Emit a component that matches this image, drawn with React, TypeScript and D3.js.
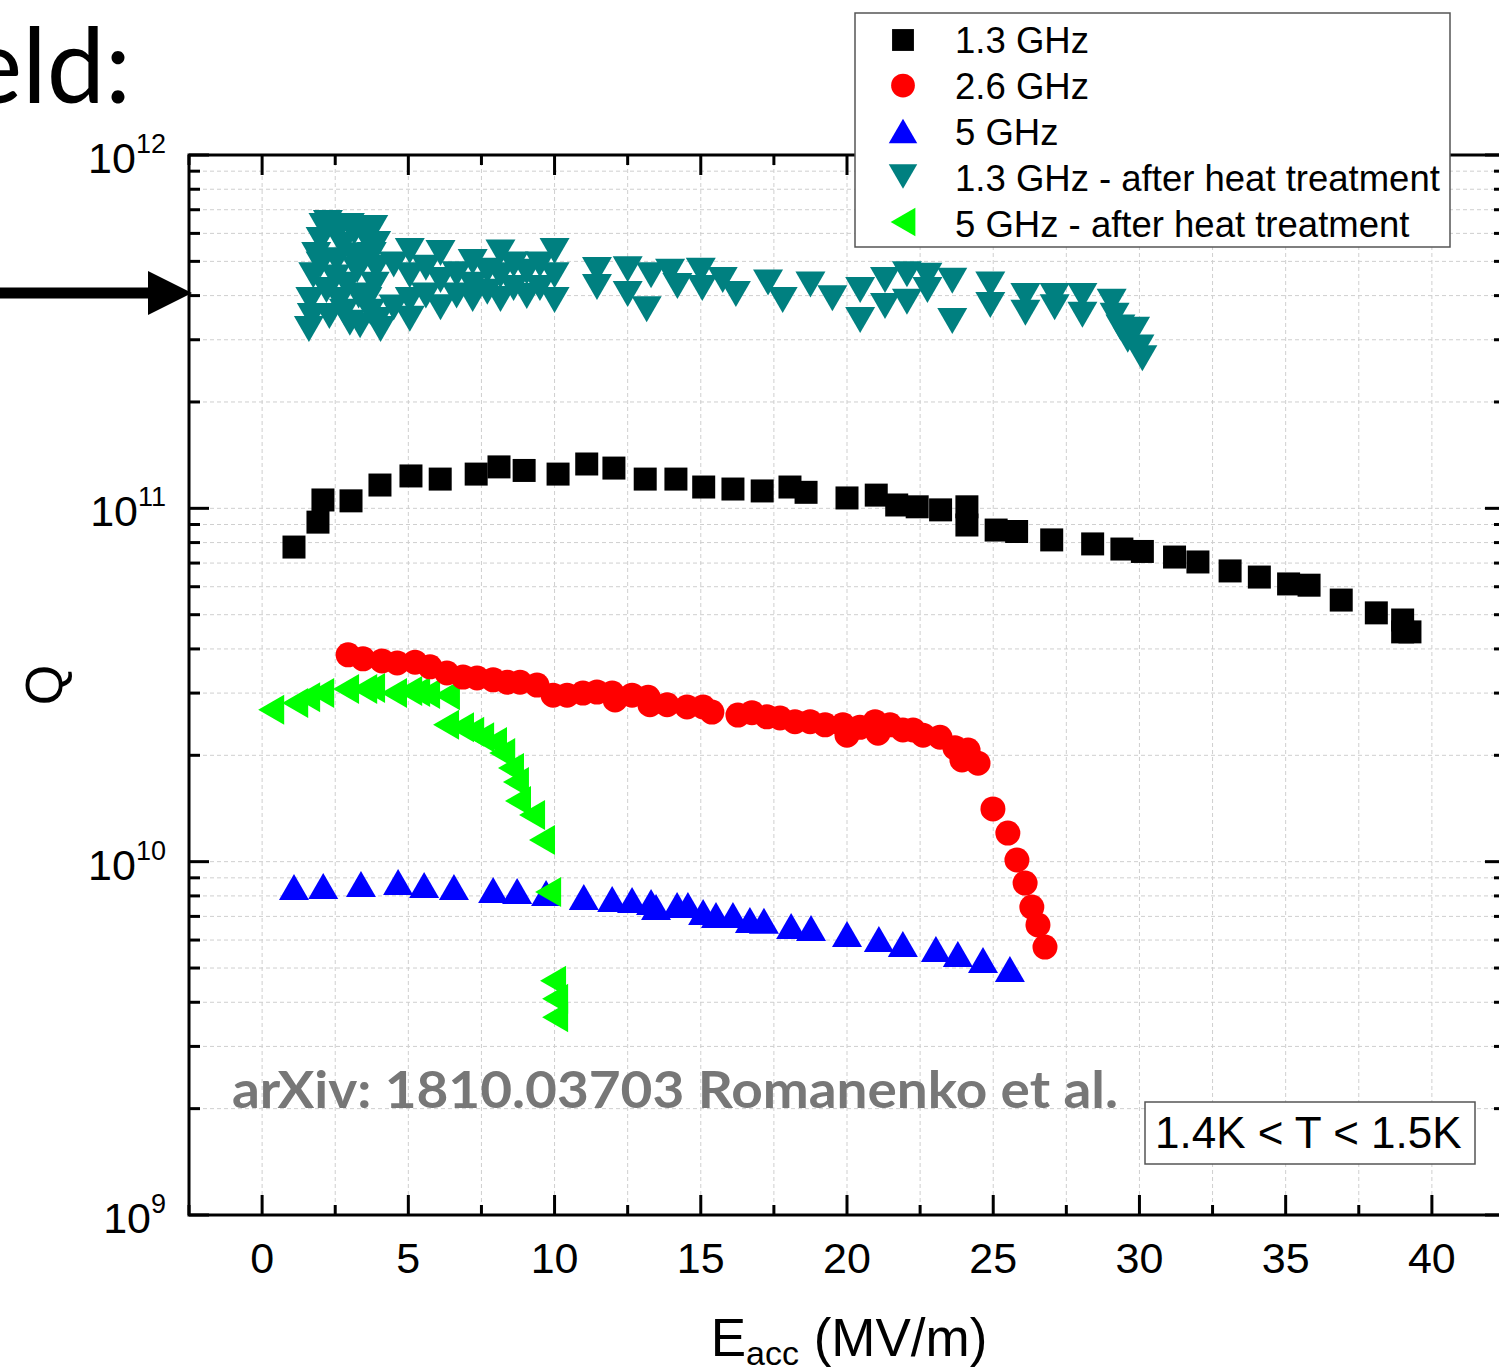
import React from 'react';
import * as d3 from 'd3';

// 1.3 GHz
const e13 = [1.09, 1.91, 2.08, 3.04, 4.03, 5.09, 6.09, 7.32, 8.1, 8.96, 10.12, 11.1, 12.03, 13.1, 14.15, 15.1, 16.1, 17.1, 18.05, 18.6, 20.0, 21.0, 21.7, 22.4, 23.2, 24.1, 24.1, 25.1, 25.8, 27.0, 28.4, 29.4, 30.1, 31.2, 32.0, 33.1, 34.1, 35.1, 35.8, 36.9, 38.1, 39.0, 39.25, 39.0];
const q13 = [7.77e10, 9.14e10, 1.056e11, 1.05e11, 1.164e11, 1.235e11, 1.21e11, 1.25e11, 1.31e11, 1.28e11, 1.25e11, 1.335e11, 1.3e11, 1.21e11, 1.21e11, 1.149e11, 1.134e11, 1.12e11, 1.149e11, 1.11e11, 1.07e11, 1.09e11, 1.022e11, 1.01e11, 0.99e11, 1.01e11, 8.97e10, 8.68e10, 8.6e10, 8.14e10, 7.93e10, 7.67e10, 7.55e10, 7.28e10, 7.05e10, 6.65e10, 6.39e10, 6.11e10, 6.06e10, 5.5e10, 5.06e10, 4.83e10, 4.47e10, 4.47e10];

// 2.6 GHz
const e26 = [2.94, 3.45, 4.1, 4.62, 5.23, 5.74, 6.32, 6.87, 7.35, 7.9, 8.38, 8.82, 9.4, 9.95, 10.43, 10.97, 11.45, 11.97, 12.07, 12.65, 13.2, 13.26, 13.85, 14.53, 15.08, 15.38, 16.27, 16.75, 17.26, 17.71, 18.22, 18.74, 19.25, 19.86, 20.0, 20.44, 20.96, 21.06, 21.47, 21.91, 22.26, 22.6, 23.18, 23.69, 23.93, 24.14, 24.48, 24.99, 25.5, 25.81, 26.09, 26.32, 26.53, 26.77];
const q26 = [3.85e10, 3.75e10, 3.7e10, 3.65e10, 3.67e10, 3.56e10, 3.42e10, 3.33e10, 3.31e10, 3.27e10, 3.22e10, 3.22e10, 3.16e10, 2.96e10, 2.96e10, 3.0e10, 3.02e10, 3.0e10, 2.87e10, 2.96e10, 2.92e10, 2.78e10, 2.78e10, 2.74e10, 2.74e10, 2.65e10, 2.6e10, 2.64e10, 2.57e10, 2.55e10, 2.49e10, 2.49e10, 2.44e10, 2.44e10, 2.28e10, 2.4e10, 2.49e10, 2.31e10, 2.44e10, 2.36e10, 2.36e10, 2.28e10, 2.25e10, 2.1e10, 1.94e10, 2.07e10, 1.9e10, 1.41e10, 1.205e10, 1.011e10, 8.7e9, 7.44e9, 6.62e9, 5.73e9];

// 5 GHz
const e5 = [1.09, 2.09, 3.38, 4.65, 5.54, 6.56, 7.9, 8.72, 9.71, 11.0, 11.97, 12.65, 13.3, 13.47, 14.19, 14.56, 15.08, 15.52, 16.1, 16.68, 17.16, 18.09, 18.77, 20.0, 21.09, 21.91, 23.04, 23.79, 24.65, 25.57];
const q5 = [8.48e9, 8.53e9, 8.65e9, 8.76e9, 8.59e9, 8.48e9, 8.32e9, 8.26e9, 8.15e9, 7.94e9, 7.84e9, 7.79e9, 7.69e9, 7.44e9, 7.54e9, 7.54e9, 7.2e9, 7.06e9, 7.06e9, 6.84e9, 6.8e9, 6.58e9, 6.49e9, 6.24e9, 6.04e9, 5.85e9, 5.66e9, 5.48e9, 5.27e9, 4.97e9];

// 1.3 GHz - after heat treatment
const e13h = [1.6, 1.65, 1.7, 1.75, 1.85, 2.0, 2.0, 2.1, 2.2, 2.25, 2.3, 2.45, 2.5, 2.55, 2.65, 2.7, 2.75, 2.8, 2.9, 3.0, 3.0, 3.1, 3.15, 3.25, 3.3, 3.35, 3.45, 3.5, 3.6, 3.6, 3.7, 3.75, 3.8, 3.85, 3.9, 3.9, 3.95, 4.05, 4.5, 4.5, 5.05, 5.05, 5.05, 5.05, 5.6, 5.6, 6.1, 6.1, 6.1, 6.65, 6.65, 7.2, 7.2, 7.2, 7.7, 7.7, 8.15, 8.15, 8.15, 8.6, 8.6, 9.05, 9.05, 9.5, 9.5, 10.0, 10.0, 10.0, 11.45, 11.45, 12.5, 12.5, 13.15, 13.3, 14.2, 13.95, 15.0, 15.05, 15.75, 16.2, 17.3, 17.8, 18.75, 19.5, 20.45, 20.45, 21.3, 21.3, 22.05, 22.05, 22.75, 22.75, 23.6, 23.6, 24.9, 24.9, 26.1, 26.1, 27.1, 27.1, 28.05, 28.05, 29.05, 29.15, 29.35, 29.6, 29.85, 30.0, 30.1];
const q13h = [3.22e11, 3.89e11, 3.5e11, 4.57e11, 5.21e11, 5.75e11, 4.9e11, 6.3e11, 4.15e11, 6.42e11, 3.5e11, 6.21e11, 4.5e11, 5.04e11, 3.89e11, 6.3e11, 5.56e11, 3.6e11, 4.29e11, 3.35e11, 6.3e11, 5.2e11, 6.05e11, 4.73e11, 4.0e11, 3.3e11, 5.0e11, 5.94e11, 3.89e11, 6.2e11, 3.6e11, 5.21e11, 6.21e11, 4.29e11, 4.8e11, 5.6e11, 3.41e11, 3.22e11, 4.9e11, 3.7e11, 5.35e11, 4.57e11, 3.89e11, 3.44e11, 4.8e11, 4.0e11, 5.28e11, 4.43e11, 3.71e11, 4.6e11, 4.0e11, 4.98e11, 4.29e11, 3.91e11, 4.7e11, 4.1e11, 5.3e11, 4.57e11, 3.91e11, 4.9e11, 4.2e11, 4.67e11, 3.99e11, 4.9e11, 4.2e11, 5.35e11, 4.57e11, 3.89e11, 4.73e11, 4.23e11, 4.75e11, 4.04e11, 3.66e11, 4.57e11, 4.26e11, 4.67e11, 4.7e11, 4.2e11, 4.43e11, 4.04e11, 4.36e11, 3.89e11, 4.3e11, 3.93e11, 4.15e11, 3.41e11, 4.43e11, 3.74e11, 4.6e11, 3.84e11, 4.55e11, 4.15e11, 4.41e11, 3.39e11, 4.3e11, 3.76e11, 3.99e11, 3.58e11, 3.99e11, 3.71e11, 3.99e11, 3.53e11, 3.84e11, 3.51e11, 3.25e11, 3.0e11, 3.2e11, 2.85e11, 2.66e11];

// 5 GHz - after heat treatment
const e5h = [0.31, 1.13, 1.54, 2.02, 2.87, 3.49, 3.76, 4.51, 5.03, 5.3, 5.64, 6.32, 6.29, 6.8, 7.15, 7.49, 7.93, 8.21, 8.51, 8.68, 8.75, 9.23, 9.57, 9.78, 9.95, 10.02, 10.02];
const q5h = [2.69e10, 2.81e10, 2.92e10, 3.0e10, 3.08e10, 3.08e10, 3.1e10, 3.0e10, 3.04e10, 3.02e10, 2.98e10, 2.96e10, 2.44e10, 2.4e10, 2.33e10, 2.25e10, 2.18e10, 2.03e10, 1.84e10, 1.68e10, 1.485e10, 1.356e10, 1.151e10, 8.21e9, 4.6e9, 4.09e9, 3.63e9];

const xTicks = [0, 5, 10, 15, 20, 25, 30, 35, 40];
const yDecades = [1e9, 1e10, 1e11, 1e12];
const yExponents = ['9', '10', '11', '12'];

const legendLabels = ['1.3 GHz', '2.6 GHz', '5 GHz', '1.3 GHz - after heat treatment', '5 GHz - after heat treatment'];

const ARIAL = '"Liberation Sans", Arial, sans-serif';

const shapes = {
  square: 'M-11.5,-11.5H11.5V11.5H-11.5Z',
  circle: 'M-12.5,0A12.5,12.5 0 1,0 12.5,0A12.5,12.5 0 1,0 -12.5,0Z',
  up: 'M0,-13L15,13L-15,13Z',
  down: 'M0,13L15,-13L-15,-13Z',
  left: 'M-13,0L13,-15L13,15Z',
};

const series = [
  { e: e13, q: q13, shape: shapes.square, color: '#000000' },
  { e: e5, q: q5, shape: shapes.up, color: '#0000ff' },
  { e: e5h, q: q5h, shape: shapes.left, color: '#00ff00' },
  { e: e26, q: q26, shape: shapes.circle, color: '#ff0000' },
  { e: e13h, q: q13h, shape: shapes.down, color: '#008080' },
];

const legendItems = [
  { shape: shapes.square, color: '#000000' },
  { shape: shapes.circle, color: '#ff0000' },
  { shape: shapes.up, color: '#0000ff' },
  { shape: shapes.down, color: '#008080' },
  { shape: shapes.left, color: '#00ff00' },
];

export default function App() {
  const x = d3.scaleLinear().domain([-2.5, 42.5]).range([189, 1505]);
  const y = d3.scaleLog().domain([1e9, 1e12]).range([1215, 155]);
  const [x0, x1] = x.range();
  const [yb, yt] = y.range();

  const xMinor = d3.range(-2.5, 42.6, 2.5);
  const yMinor: number[] = [];
  [1e9, 1e10, 1e11].forEach((d) => {
    for (let m = 1; m <= 9; m += 1) yMinor.push(m * d);
  });

  return (
    <svg width={1499} height={1372} style={{ position: 'absolute', left: 0, top: 0, background: '#fff' }}>
      <rect width={1499} height={1372} fill="#fff" />

      {/* heading fragment (cropped in the source slide) and arrow */}
      <text x={131} y={103} textAnchor="end" fontFamily="Lato, 'Noto Sans', sans-serif" fontSize={104} fill="#000">field:</text>
      <line x1={0} x2={152} y1={293} y2={293} stroke="#000" strokeWidth={11} />
      <path d="M148,271L192,293L148,315Z" fill="#000" />

      {/* grid */}
      <g stroke="#cfcfcf" strokeWidth={1} strokeDasharray="4 3">
        {xMinor.filter((v) => v > -2.5 && v < 42.5).map((v) => (
          <line key={`gx${v}`} x1={x(v)} x2={x(v)} y1={yt} y2={yb} />
        ))}
        {yMinor.filter((v) => v > 1e9).map((v) => (
          <line key={`gy${v}`} x1={x0} x2={x1} y1={y(v)} y2={y(v)} />
        ))}
      </g>

      {/* data */}
      {series.map((s, si) => (
        <g key={si} fill={s.color}>
          {s.e.map((ev, i) => (
            <path key={i} d={s.shape} transform={`translate(${x(ev)},${y(s.q[i])})`} />
          ))}
        </g>
      ))}

      {/* axes frame and ticks */}
      <g stroke="#000" strokeWidth={3} fill="none">
        <rect x={x0} y={yt} width={x1 - x0} height={yb - yt} />
        {xMinor.map((v) => {
          const major = xTicks.includes(v);
          const len = major ? 20 : 10;
          return (
            <g key={`tx${v}`}>
              <line x1={x(v)} x2={x(v)} y1={yb} y2={yb - len} />
              <line x1={x(v)} x2={x(v)} y1={yt} y2={yt + len} />
            </g>
          );
        })}
        {yMinor.concat([1e12]).map((v) => {
          const major = yDecades.includes(v);
          const len = major ? 20 : 11;
          return (
            <g key={`ty${v}`}>
              <line x1={x0} x2={x0 + len} y1={y(v)} y2={y(v)} />
              <line x1={x1} x2={x1 - len} y1={y(v)} y2={y(v)} />
            </g>
          );
        })}
      </g>

      {/* tick labels */}
      <g fontFamily={ARIAL} fill="#000">
        {xTicks.map((v) => (
          <text key={`lx${v}`} x={x(v)} y={1273} fontSize={43} textAnchor="middle">{v}</text>
        ))}
        {yDecades.map((v, i) => (
          <text key={`ly${v}`} x={166} y={y(v) + 18} textAnchor="end">
            <tspan fontSize={43}>10</tspan>
            <tspan fontSize={27} dy={-20}>{yExponents[i]}</tspan>
          </text>
        ))}
      </g>

      {/* axis titles */}
      <text x={849} y={1356} textAnchor="middle" fontFamily={ARIAL} fontSize={53} fill="#000">
        E<tspan fontSize={34} dy={9}>acc</tspan><tspan dy={-9}> (MV/m)</tspan>
      </text>
      <text transform="translate(62,685) rotate(-90)" textAnchor="middle" fontFamily={ARIAL} fontSize={52} fill="#000">Q</text>

      {/* source note */}
      <text x={232} y={1108} fontFamily="Lato, sans-serif" fontWeight="bold" fontSize={51} fill="#777" textLength={886} lengthAdjust="spacingAndGlyphs">arXiv: 1810.03703 Romanenko et al.</text>

      {/* temperature box */}
      <rect x={1145} y={1102} width={330} height={62} fill="#fff" stroke="#555" strokeWidth={1.5} />
      <text x={1155} y={1148} fontFamily={ARIAL} fontSize={44} fill="#000">1.4K &lt; T &lt; 1.5K</text>

      {/* legend */}
      <rect x={855} y={13} width={595} height={234} fill="#fff" stroke="#555" strokeWidth={1.5} />
      {legendLabels.map((label, i) => (
        <g key={label}>
          <path d={legendItems[i].shape} fill={legendItems[i].color} transform={`translate(903,${40 + i * 45.5}) scale(0.95)`} />
          <text x={955} y={53 + i * 46} fontFamily={ARIAL} fontSize={36.5} fill="#000">{label}</text>
        </g>
      ))}
    </svg>
  );
}
